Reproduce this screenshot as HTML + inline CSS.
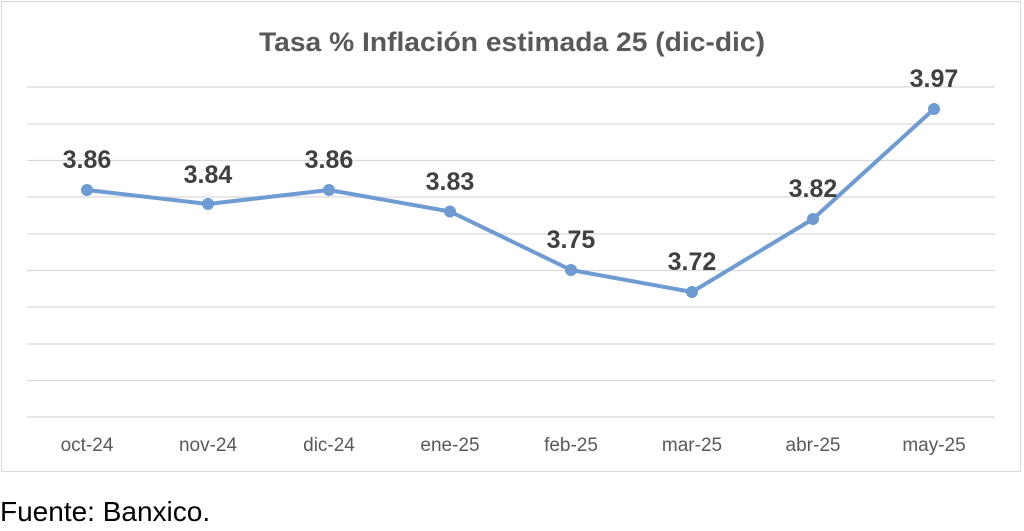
<!DOCTYPE html>
<html><head><meta charset="utf-8"><style>
body{margin:0;background:#fff;width:1024px;height:531px;overflow:hidden}
svg{display:block}
</style></head><body>
<svg width="1024" height="531" xmlns="http://www.w3.org/2000/svg" font-family="Liberation Sans, sans-serif">
<rect x="1.5" y="1.5" width="1019" height="470" fill="#fff" stroke="#d9d9d9" stroke-width="1"/>
<text x="512" y="51" text-anchor="middle" font-size="27" font-weight="bold" fill="#595959" textLength="506" lengthAdjust="spacingAndGlyphs">Tasa % Inflación estimada 25 (dic-dic)</text>
<g stroke="#d9d9d9" stroke-width="1.3">
<line x1="27" x2="995" y1="87" y2="87"/><line x1="27" x2="995" y1="124" y2="124"/>
<line x1="27" x2="995" y1="160.5" y2="160.5"/><line x1="27" x2="995" y1="197" y2="197"/>
<line x1="27" x2="995" y1="234" y2="234"/><line x1="27" x2="995" y1="270.5" y2="270.5"/>
<line x1="27" x2="995" y1="307" y2="307"/><line x1="27" x2="995" y1="344" y2="344"/>
<line x1="27" x2="995" y1="380.5" y2="380.5"/><line x1="27" x2="995" y1="417" y2="417"/>
</g>
<polyline fill="none" stroke="#6f9bd3" stroke-width="4" stroke-linejoin="round" points="87,190 208,204 329,190 450,211.5 571,270 692,292 813,219 934,109"/>
<g fill="#6f9bd3">
<circle cx="87" cy="190" r="6"/><circle cx="208" cy="204" r="6"/><circle cx="329" cy="190" r="6"/><circle cx="450" cy="211.5" r="6"/>
<circle cx="571" cy="270" r="6"/><circle cx="692" cy="292" r="6"/><circle cx="813" cy="219" r="6"/><circle cx="934" cy="109" r="6"/>
</g>
<g font-size="25" font-weight="bold" fill="#404040" text-anchor="middle">
<text x="87" y="168">3.86</text><text x="208" y="183">3.84</text><text x="329" y="168">3.86</text><text x="450" y="190">3.83</text>
<text x="571" y="248">3.75</text><text x="692" y="270">3.72</text><text x="813" y="197">3.82</text><text x="934" y="87">3.97</text>
</g>
<g font-size="19" fill="#595959" text-anchor="middle">
<text x="87" y="451">oct-24</text><text x="208" y="451">nov-24</text><text x="329" y="451">dic-24</text><text x="450" y="451">ene-25</text>
<text x="571" y="451">feb-25</text><text x="692" y="451">mar-25</text><text x="813" y="451">abr-25</text><text x="934" y="451">may-25</text>
</g>
<text x="0" y="521" font-size="28" fill="#000">Fuente: Banxico.</text>
</svg>
</body></html>
